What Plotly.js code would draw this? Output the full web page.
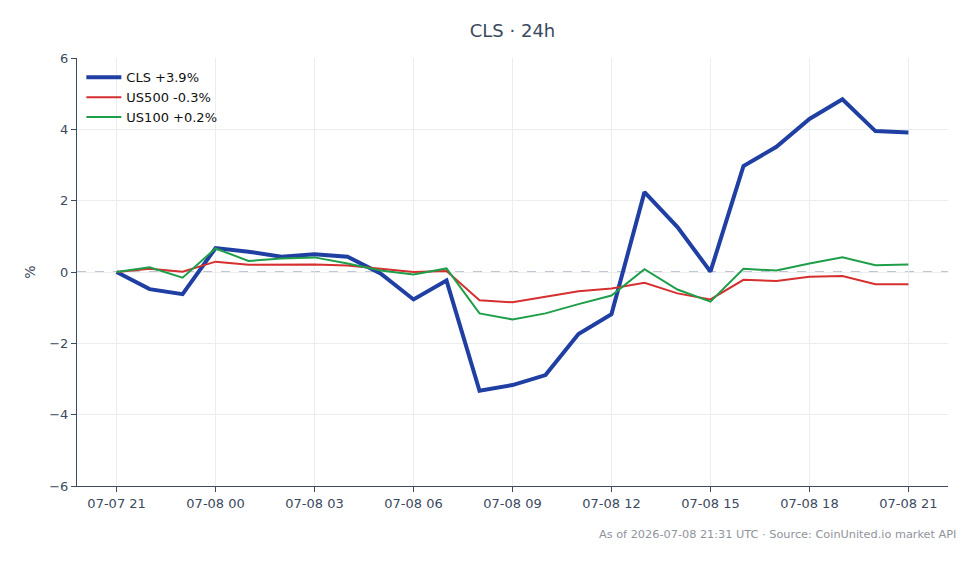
<!DOCTYPE html>
<html><head><meta charset="utf-8">
<script src="https://cdn.plot.ly/plotly-3.0.1.min.js"></script>
<style>html,body{margin:0;padding:0;background:#fff}#chart{width:980px;height:564px}</style>
</head><body><div id="chart"></div>
<script>
const times = ["2026-07-07 21:00","2026-07-07 22:00","2026-07-07 23:00","2026-07-08 00:00","2026-07-08 01:00","2026-07-08 02:00","2026-07-08 03:00","2026-07-08 04:00","2026-07-08 05:00","2026-07-08 06:00","2026-07-08 07:00","2026-07-08 08:00","2026-07-08 09:00","2026-07-08 10:00","2026-07-08 11:00","2026-07-08 12:00","2026-07-08 13:00","2026-07-08 14:00","2026-07-08 15:00","2026-07-08 16:00","2026-07-08 17:00","2026-07-08 18:00","2026-07-08 19:00","2026-07-08 20:00","2026-07-08 21:00"];
const cls   = [0,-0.48,-0.62,0.67,0.57,0.43,0.50,0.43,-0.04,-0.77,-0.24,-3.33,-3.17,-2.89,-1.74,-1.18,2.24,1.26,0.01,2.97,3.51,4.29,4.84,3.95,3.91];
const us500 = [0,0.09,0.01,0.29,0.20,0.20,0.21,0.18,0.08,0.00,0.03,-0.79,-0.85,-0.69,-0.54,-0.46,-0.30,-0.60,-0.77,-0.22,-0.25,-0.13,-0.11,-0.34,-0.34];
const us100 = [0,0.13,-0.16,0.66,0.31,0.38,0.41,0.24,0.04,-0.07,0.10,-1.16,-1.33,-1.16,-0.90,-0.66,0.08,-0.49,-0.83,0.09,0.04,0.24,0.41,0.19,0.21];
const names = ["CLS +3.9%","US500 -0.3%","US100 +0.2%"];
const colors = ["#1f3fa3","#d62f2f","#1f9e4a"];
const tickVals = ["2026-07-07 21:00","2026-07-08 00:00","2026-07-08 03:00","2026-07-08 06:00","2026-07-08 09:00","2026-07-08 12:00","2026-07-08 15:00","2026-07-08 18:00","2026-07-08 21:00"];

const font = "DejaVu Sans, sans-serif";
const traces = [
  {x: times, y: cls, name: names[0], mode: "lines", line: {color: colors[0], width: 4}},
  {x: times, y: us500, name: names[1], mode: "lines", line: {color: colors[1], width: 2}},
  {x: times, y: us100, name: names[2], mode: "lines", line: {color: colors[2], width: 2}}
];
const layout = {
  width: 980, height: 564,
  margin: {l: 77, r: 32, t: 58, b: 78},
  paper_bgcolor: "#fff", plot_bgcolor: "#fff",
  font: {family: font, size: 13, color: "#3b4a5e"},
  title: {text: "CLS · 24h", x: 0.5, xref: "paper", xanchor: "center", y: 0.945, yref: "container", yanchor: "middle", font: {family: font, size: 18, color: "#3b4a5e"}},
  showlegend: true,
  legend: {x: 0.005, y: 0.99, xanchor: "left", yanchor: "top", bgcolor: "rgba(255,255,255,0)", font: {family: font, size: 13, color: "#111"}, tracegroupgap: 0, itemwidth: 35},
  xaxis: {
    type: "date", range: ["2026-07-07 19:48", "2026-07-08 22:12"],
    tickvals: tickVals, tickformat: "%m-%d %H",
    showgrid: true, gridcolor: "#ebedf0", gridwidth: 1,
    showline: true, linecolor: "#3b4a5e", linewidth: 1,
    ticks: "outside", ticklen: 5, tickcolor: "#3b4a5e",
    zeroline: false, tickfont: {family: font, size: 13, color: "#3b4a5e"}
  },
  yaxis: {
    range: [-6, 6], dtick: 2,
    showgrid: true, gridcolor: "#ebedf0", gridwidth: 1,
    showline: true, linecolor: "#3b4a5e", linewidth: 1,
    ticks: "outside", ticklen: 5, tickcolor: "#3b4a5e",
    zeroline: false, tickfont: {family: font, size: 13, color: "#3b4a5e"},
    title: {text: "%", font: {family: font, size: 14, color: "#3b4a5e"}, standoff: 10}
  },
  shapes: [{type: "line", xref: "paper", x0: 0, x1: 1, yref: "y", y0: 0, y1: 0, line: {color: "#7f8da5", width: 1.2, dash: "dash"}, layer: "below"}],
  annotations: [{text: "As of 2026-07-08 21:31 UTC · Source: CoinUnited.io market API", xref: "paper", yref: "paper", x: 1.012, y: -0.113, xanchor: "right", yanchor: "middle", showarrow: false, font: {family: font, size: 11.3, color: "#8f949c"}}]
};
Plotly.newPlot("chart", traces, layout, {displayModeBar: false, staticPlot: true});
</script></body></html>
